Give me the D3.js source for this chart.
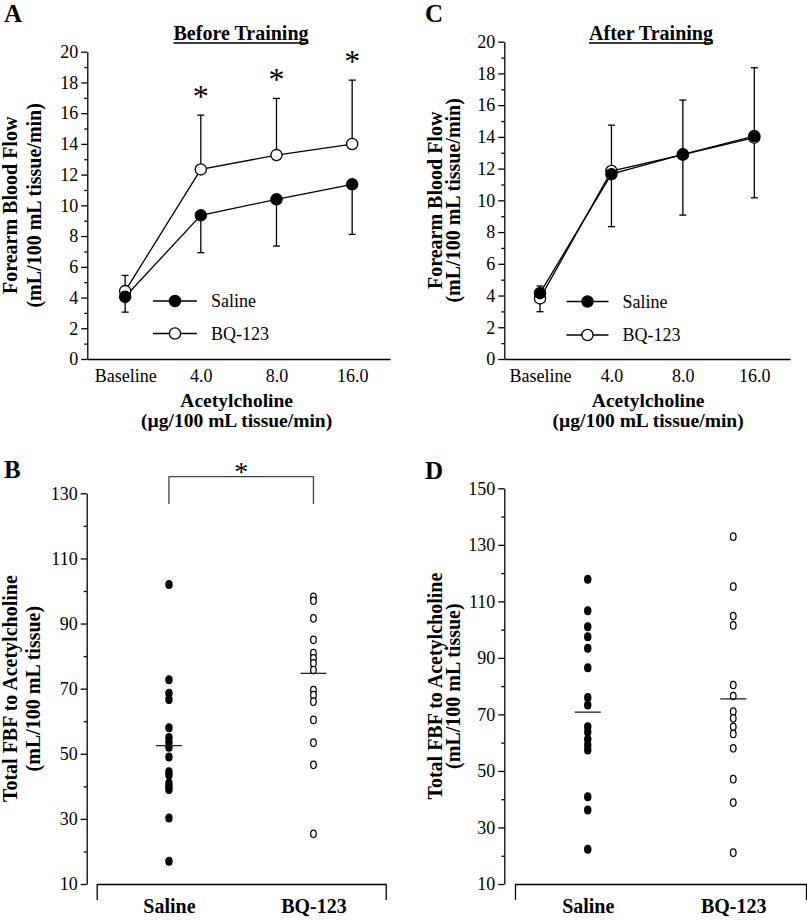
<!DOCTYPE html>
<html><head><meta charset="utf-8">
<script src="https://cdn.jsdelivr.net/npm/d3@7"></script>
<style>
body{margin:0;background:#fff}
svg{display:block}
text{font-family:"Liberation Serif","Times New Roman",serif;fill:#000}
</style>
</head><body><svg id="c" width="807" height="921"></svg>
<script>
// ---------- DATA ----------
const doseLabels = ["Baseline", "4.0", "8.0", "16.0"];
const lineTicksMajor = [0, 2, 4, 6, 8, 10, 12, 14, 16, 18, 20];
const lineTicksMinor = [1, 3, 5, 7, 9, 11, 13, 15, 17, 19];

// Panel A (Before Training): saline errors drawn downward, BQ-123 errors upward
const beforeSaline = [4.05, 9.35, 10.39, 11.37];
const beforeSalineErr = [1.0, 2.43, 3.04, 3.26];
const beforeBQ = [4.42, 12.34, 13.27, 13.99];
const beforeBQErr = [1.02, 3.53, 3.69, 4.16];
const beforeSig = [false, true, true, true];

// Panel C (After Training): saline errors upward, BQ-123 errors downward
const afterSaline = [4.15, 11.65, 12.9, 14.05];
const afterSalineErr = [0.45, 3.09, 3.42, 4.31];
const afterBQ = [3.82, 11.85, 12.88, 13.95];
const afterBQErr = [0.84, 3.51, 3.81, 3.79];

const groups = ["Saline", "BQ-123"];
// Panel B (Before Training, total FBF)
const bSaline = [102, 72.7, 68.6, 66.7, 58, 55, 53.5, 52, 49, 44.5, 43.5, 41, 40, 39, 30.3, 17];
const bBQ = [98.2, 97, 91.6, 85, 80.9, 79.3, 77.8, 75.7, 69.6, 68, 66, 60.4, 53.4, 46.6, 25.4];
const bMeans = [52.5, 74.7];
const bTicksMajor = [10, 30, 50, 70, 90, 110, 130];
const bTicksMinor = [20, 40, 60, 80, 100, 120];
// Panel D (After Training, total FBF)
const dSaline = [117.8, 106.7, 101, 97.5, 93.4, 86.5, 76, 73.3, 65.6, 63.8, 61.2, 59.2, 57.4, 40.9, 36.2, 22.3];
const dBQ = [132.9, 115.2, 104.8, 101.5, 80.4, 76.5, 71, 68.6, 65.6, 63.1, 58, 47.1, 38.8, 21.1];
const dMeans = [70.8, 75.5];
const dTicksMajor = [10, 30, 50, 70, 90, 110, 130, 150];
const dTicksMinor = [20, 40, 60, 80, 100, 120, 140];

// ---------- DRAWING ----------
const svg = d3.select("#c");
const SW = 1.3;
const TICKFS = 18;

function styleAxis(g, fs) {
  g.selectAll("path,line").attr("stroke", "#000").attr("stroke-width", SW);
  g.selectAll("text").attr("font-size", fs).attr("fill", "#000")
    .style("font-family", '"Liberation Serif","Times New Roman",serif');
}

function yLabel(cy, b1, b2, l1, l2) {
  svg.append("text").attr("transform", `translate(${b1},${cy}) rotate(-90)`)
    .attr("text-anchor", "middle").attr("font-weight", "bold").attr("font-size", 20).text(l1);
  svg.append("text").attr("transform", `translate(${b2},${cy}) rotate(-90)`)
    .attr("text-anchor", "middle").attr("font-weight", "bold").attr("font-size", 20).text(l2);
}

function title(cx, by, txt) {
  const t = svg.append("text").attr("x", cx).attr("y", by).attr("text-anchor", "middle")
    .attr("font-weight", "bold").attr("font-size", 20).text(txt);
  const w = t.node().getComputedTextLength();
  svg.append("line").attr("x1", cx - w / 2).attr("x2", cx + w / 2)
    .attr("y1", by + 3).attr("y2", by + 3).attr("stroke", "#000").attr("stroke-width", 1.6);
}

function panelLetter(x, y, s) {
  svg.append("text").attr("x", x).attr("y", y).attr("font-weight", "bold")
    .attr("font-size", 25).text(s);
}

function linePanel(o) {
  const x = d3.scalePoint().domain(doseLabels).range([o.x0, o.x1]).padding(0.5);
  const y = d3.scaleLinear().domain([0, 20]).range([o.yb, o.yt]);

  // y axis
  const gy = svg.append("g").attr("transform", `translate(${o.x0},0)`)
    .call(d3.axisLeft(y).tickValues(lineTicksMajor).tickSizeInner(6).tickSizeOuter(0)
      .tickPadding(3).tickFormat(d3.format("d")));
  styleAxis(gy, TICKFS);
  const gym = svg.append("g").attr("transform", `translate(${o.x0},0)`)
    .call(d3.axisLeft(y).tickValues(lineTicksMinor).tickSize(3).tickFormat(""));
  gym.select(".domain").remove();
  styleAxis(gym, TICKFS);

  // x axis
  const gx = svg.append("g").attr("transform", `translate(0,${o.yb})`)
    .call(d3.axisBottom(x).tickSizeInner(0).tickSizeOuter(0).tickPadding(10.3));
  styleAxis(gx, TICKFS);

  const line = d3.line().x((d, i) => x(doseLabels[i])).y(d => y(d));
  const g = svg.append("g");
  [o.bq, o.sal].forEach(s => {
    g.append("path").attr("d", line(s)).attr("fill", "none").attr("stroke", "#000").attr("stroke-width", SW);
  });
  // error bars
  function errs(vals, e, dir) {
    vals.forEach((v, i) => {
      const cx = x(doseLabels[i]);
      const end = y(v + dir * e[i]);
      g.append("line").attr("x1", cx).attr("x2", cx).attr("y1", y(v)).attr("y2", end)
        .attr("stroke", "#000").attr("stroke-width", SW);
      g.append("line").attr("x1", cx - 3.5).attr("x2", cx + 3.5).attr("y1", end).attr("y2", end)
        .attr("stroke", "#000").attr("stroke-width", SW);
    });
  }
  errs(o.sal, o.salErr, o.salDir);
  errs(o.bq, o.bqErr, o.bqDir);
  // markers
  g.selectAll(".bq").data(o.bq).join("circle")
    .attr("cx", (d, i) => x(doseLabels[i])).attr("cy", d => y(d)).attr("r", 5.6)
    .attr("fill", "#fff").attr("stroke", "#000").attr("stroke-width", SW);
  g.selectAll(".sal").data(o.sal).join("circle")
    .attr("cx", (d, i) => x(doseLabels[i])).attr("cy", d => y(d)).attr("r", 5.6)
    .attr("fill", "#000").attr("stroke", "#000").attr("stroke-width", SW);

  // significance
  if (o.sig) {
    o.sig.forEach((s, i) => {
      if (!s) return;
      const top = o.bq[i] + o.bqErr[i];
      svg.append("text").attr("x", x(doseLabels[i])).attr("y", y(top) - 8.5)
        .attr("text-anchor", "middle").attr("font-size", 32).text("*");
    });
  }

  // legend
  const lg = [{lab: "Saline", fill: "#000", dy: 0}, {lab: "BQ-123", fill: "#fff", dy: o.legGap}];
  lg.forEach(d => {
    const ly = o.legY + d.dy;
    svg.append("line").attr("x1", o.legX).attr("x2", o.legX + o.legW).attr("y1", ly).attr("y2", ly)
      .attr("stroke", "#000").attr("stroke-width", SW);
    svg.append("circle").attr("cx", o.legX + o.legW / 2).attr("cy", ly).attr("r", 5.6)
      .attr("fill", d.fill).attr("stroke", "#000").attr("stroke-width", SW);
    svg.append("text").attr("x", o.legX + o.legW + 14).attr("y", ly + 6).attr("font-size", TICKFS).text(d.lab);
  });

  // x-axis titles
  const mx = (o.x0 + o.x1) / 2 + o.xtShift;
  svg.append("text").attr("x", mx).attr("y", o.yb + 47.5).attr("text-anchor", "middle")
    .attr("font-weight", "bold").attr("font-size", 19.5).text("Acetylcholine");
  svg.append("text").attr("x", mx).attr("y", o.yb + 68).attr("text-anchor", "middle")
    .attr("font-weight", "bold").attr("font-size", 19.5).text("(µg/100 mL tissue/min)");

  yLabel((o.yb + o.yt) / 2, o.yl1, o.yl2, "Forearm Blood Flow", "(mL/100 mL tissue/min)");
}

function scatterPanel(o) {
  const x = d3.scalePoint().domain(groups).range([o.xa0, o.xa1]).padding(0.5);
  const y = d3.scaleLinear().domain(o.domain).range([o.yb, o.yt]);

  const gy = svg.append("g").attr("transform", `translate(${o.ax},0)`)
    .call(d3.axisLeft(y).tickValues(o.major).tickSizeInner(6).tickSizeOuter(0)
      .tickPadding(3).tickFormat(d3.format("d")));
  styleAxis(gy, TICKFS);
  const gym = svg.append("g").attr("transform", `translate(${o.ax},0)`)
    .call(d3.axisLeft(y).tickValues(o.minor).tickSize(3).tickFormat(""));
  gym.select(".domain").remove();
  styleAxis(gym, TICKFS);

  const gx = svg.append("g").attr("transform", `translate(0,${o.yb})`)
    .call(d3.axisBottom(x).tickSizeInner(0).tickSizeOuter(16).tickPadding(14.5));
  styleAxis(gx, 20);
  gx.selectAll("text").attr("font-weight", "bold");

  const g = svg.append("g");
  g.selectAll(".s").data(o.sal).join("ellipse")
    .attr("cx", x("Saline")).attr("cy", d => y(d)).attr("rx", 3.7).attr("ry", 4.5)
    .attr("fill", "#000");
  g.selectAll(".b").data(o.bq).join("ellipse")
    .attr("cx", x("BQ-123")).attr("cy", d => y(d)).attr("rx", 2.8).attr("ry", 3.7)
    .attr("fill", "#fff").attr("stroke", "#000").attr("stroke-width", 1.25);
  g.selectAll(".m").data(o.means).join("line")
    .attr("x1", (d, i) => x(groups[i]) - 13).attr("x2", (d, i) => x(groups[i]) + 13)
    .attr("y1", d => y(d)).attr("y2", d => y(d))
    .attr("stroke", "#222").attr("stroke-width", 1.3);

  if (o.bracket) {
    const top = y(o.domain[1]) - 16.6, bot = y(o.domain[1]) + 10.7;
    g.append("path").attr("d", `M${x("Saline")},${bot}V${top}H${x("BQ-123")}V${bot}`)
      .attr("fill", "none").attr("stroke", "#444").attr("stroke-width", 1.3);
    svg.append("text").attr("x", (x("Saline") + x("BQ-123")) / 2).attr("y", top + 4.5)
      .attr("text-anchor", "middle").attr("font-size", 28).text("*");
  }

  yLabel((o.yb + o.yt) / 2, o.yl1, o.yl2, "Total FBF to Acetylcholine", "(mL/100 mL tissue)");
}

// Panel A
panelLetter(4, 22, "A");
title(241, 40, "Before Training");
linePanel({x0: 87.3, x1: 390, yb: 359, yt: 51.7,
  sal: beforeSaline, salErr: beforeSalineErr, salDir: -1,
  bq: beforeBQ, bqErr: beforeBQErr, bqDir: 1, sig: beforeSig,
  legX: 153, legW: 44, legY: 301, legGap: 32.5, xtShift: -2,
  yl1: 16.5, yl2: 41});

// Panel C
panelLetter(425, 22, "C");
title(651, 40, "After Training");
linePanel({x0: 504.3, x1: 790, yb: 359, yt: 41.7,
  sal: afterSaline, salErr: afterSalineErr, salDir: 1,
  bq: afterBQ, bqErr: afterBQErr, bqDir: -1, sig: null,
  legX: 566.5, legW: 42, legY: 301.5, legGap: 33.5, xtShift: 1,
  yl1: 442, yl2: 460});

// Panel B
panelLetter(4, 478, "B");
scatterPanel({ax: 86.7, xa0: 96.7, xa1: 385.7, yb: 884, yt: 493.3, domain: [10, 130],
  major: bTicksMajor, minor: bTicksMinor, sal: bSaline, bq: bBQ, means: bMeans,
  bracket: true, yl1: 17, yl2: 40});

// Panel D
panelLetter(425, 479, "D");
scatterPanel({ax: 504.3, xa0: 515, xa1: 806, yb: 884, yt: 488.3, domain: [10, 150],
  major: dTicksMajor, minor: dTicksMinor, sal: dSaline, bq: dBQ, means: dMeans,
  bracket: false, yl1: 442, yl2: 460});
</script>
</body></html>
